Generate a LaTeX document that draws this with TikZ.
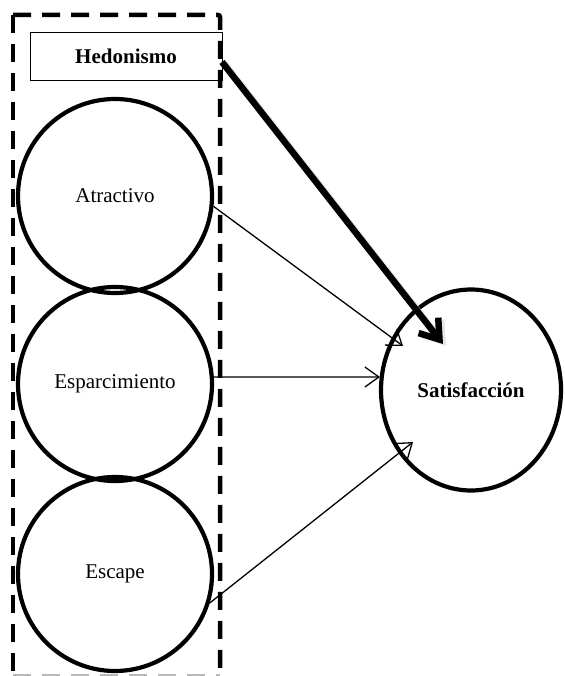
\documentclass[tikz,border=0pt]{standalone}
\usepackage{fontspec}
\setmainfont{Liberation Serif}
\usetikzlibrary{shapes.geometric,arrows.meta}

\tikzset{
  construct/.style={circle, draw, line width=4.2pt, minimum size=194pt, inner sep=0pt,
                    font=\fontsize{21}{24}\selectfont},
  outcome/.style={ellipse, draw, line width=4.2pt, minimum width=180pt, minimum height=201pt,
                  inner sep=0pt, font=\fontsize{21}{24}\selectfont\bfseries},
  labelbox/.style={rectangle, draw, line width=0.9pt, minimum width=192pt, minimum height=48pt,
                   inner sep=0pt, font=\fontsize{21}{24}\selectfont\bfseries},
  groupframe/.style={draw, line width=4.5pt, dash pattern=on 18pt off 11pt, rounded corners=2pt},
  thinarrow/.style={line width=1.3pt, -{Straight Barb[length=14pt,width=20pt,line width=1.3pt]}},
  thickarrow/.style={line width=6.5pt, -{Straight Barb[length=18pt,width=25pt,line width=6.5pt]}},
  shadowarrow/.style={line width=6.5pt, gray!45, opacity=0.4,
                      -{Straight Barb[length=18pt,width=25pt,line width=6.5pt]}}
}

\begin{document}
\begin{tikzpicture}[x=1pt,y=-1pt]
  \useasboundingbox (0,0) rectangle (564,676);

  % dashed frame around the hedonism dimensions
  \draw[groupframe] (13,15) -- (220,15) -- (220,677);
  \draw[groupframe] (13,15) -- (13,677);
  \draw[groupframe, gray!55] (13,676) -- (220,676);

  % hedonism label and its three dimensions
  \node[labelbox] (hed) at (126,56) {Hedonismo};
  \node[construct] (atr) at (115,196) {Atractivo};
  \node[construct] (esp) at (115,384) {Esparcimiento};
  \node[construct] (esc) at (115,574) {Escape};

  % outcome
  \node[outcome] (sat) at (471,390) {Satisfacción};

  % arrow end points on the outcome
  \coordinate (hstart) at (222,62);
  \coordinate (t1) at (403,346);
  \coordinate (t2) at (380,377);
  \coordinate (t3) at (413,442);
  \coordinate (thk) at (443,344);

  % paths
  \draw[thinarrow] (atr.-6) -- (t1);
  \draw[thinarrow] (esp.4) -- (t2);
  \draw[thinarrow] (esc.-17) -- (t3);

  \draw[shadowarrow] ([shift={(3,2)}]hstart) -- ([shift={(3,2)}]thk);
  \draw[thickarrow] (hstart) -- (thk);
\end{tikzpicture}
\end{document}
